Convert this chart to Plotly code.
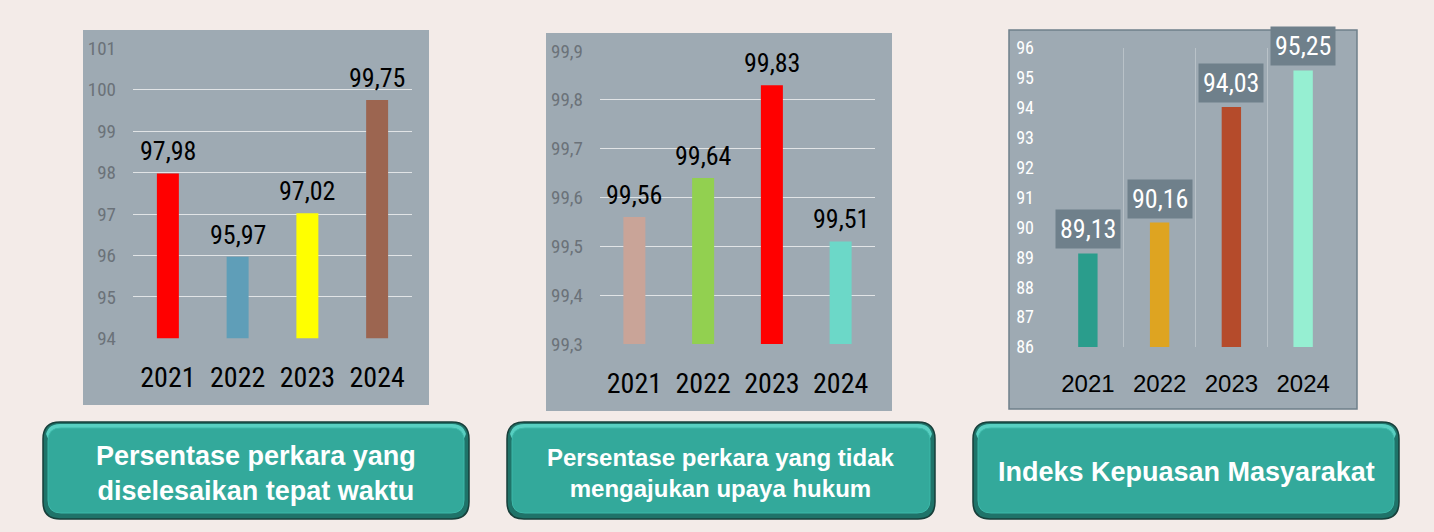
import plotly.graph_objects as go

W, H = 1434, 532

years = ["2021", "2022", "2023", "2024"]

p1_values = [97.98, 95.97, 97.02, 99.75]
p1_colors = ["#ff0000", "#5f9eb8", "#ffff00", "#9c6550"]
p1_ticks = [94, 95, 96, 97, 98, 99, 100, 101]

p2_values = [99.56, 99.64, 99.83, 99.51]
p2_colors = ["#c9a498", "#92d050", "#ff0000", "#6cd8c8"]
p2_ticks = [99.3, 99.4, 99.5, 99.6, 99.7, 99.8, 99.9]

p3_values = [89.13, 90.16, 94.03, 95.25]
p3_colors = ["#2a9d8c", "#dea421", "#b54b2b", "#96efd2"]
p3_ticks = [86, 87, 88, 89, 90, 91, 92, 93, 94, 95, 96]

titles = [
    "Persentase perkara yang<br>diselesaikan tepat waktu",
    "Persentase perkara yang tidak<br>mengajukan upaya hukum",
    "Indeks Kepuasan Masyarakat",
]

NARROW = "Roboto Condensed, Liberation Sans Narrow, Arial Narrow, DejaVu Sans Condensed, sans-serif"
SANS = "Liberation Sans, Arial, sans-serif"
PANEL_BG = "#9eaab3"


def px(x):
    return x / W


def py(y):
    return 1 - y / H


def fmt(v):
    return f"{v:.2f}".replace(".", ",")


def rrect(x0, y0, x1, y1, r):
    pts = [
        f"M {px(x0 + r)},{py(y0)}",
        f"L {px(x1 - r)},{py(y0)}",
        f"Q {px(x1)},{py(y0)} {px(x1)},{py(y0 + r)}",
        f"L {px(x1)},{py(y1 - r)}",
        f"Q {px(x1)},{py(y1)} {px(x1 - r)},{py(y1)}",
        f"L {px(x0 + r)},{py(y1)}",
        f"Q {px(x0)},{py(y1)} {px(x0)},{py(y1 - r)}",
        f"L {px(x0)},{py(y0 + r)}",
        f"Q {px(x0)},{py(y0)} {px(x0 + r)},{py(y0)}",
        "Z",
    ]
    return " ".join(pts)


fig = go.Figure()

panels = [
    dict(vals=p1_values, cols=p1_colors, ticks=p1_ticks, rng=[94, 101], fmt="d",
         dom=(133, 412, 48.3, 338.3), bg=(83, 429, 30, 405), width=0.315,
         tickcol="#6b7279", ticksize=19, yearsize=28, yearfont=NARROW, hgrid=True, boxed=False,
         standoff_y=16, standoff_x=20),
    dict(vals=p2_values, cols=p2_colors, ticks=p2_ticks, rng=[99.3, 99.9], fmt=".1f",
         dom=(600, 875, 51, 344), bg=(546, 892, 33, 411), width=0.32,
         tickcol="#6b7279", ticksize=19, yearsize=28, yearfont=NARROW, hgrid=True, boxed=False,
         standoff_y=16, standoff_x=20),
    dict(vals=p3_values, cols=p3_colors, ticks=p3_ticks, rng=[86, 96], fmt="d",
         dom=(1052, 1339, 48, 347), bg=(1009, 1357, 30, 409), width=0.27,
         tickcol="#ffffff", ticksize=18, yearsize=24, yearfont=SANS, hgrid=False, boxed=True,
         standoff_y=17, standoff_x=20),
]

shapes = []
annotations = []

for i, p in enumerate(panels, start=1):
    xa = "x" if i == 1 else f"x{i}"
    ya = "y" if i == 1 else f"y{i}"
    fig.add_trace(go.Bar(
        x=years, y=p["vals"], marker=dict(color=p["cols"], line=dict(width=0)),
        width=p["width"], xaxis=xa, yaxis=ya, showlegend=False, hoverinfo="skip",
    ))
    x0, x1, y0, y1 = p["dom"]
    xkey = "xaxis" if i == 1 else f"xaxis{i}"
    ykey = "yaxis" if i == 1 else f"yaxis{i}"
    xaxis = dict(
        domain=[px(x0), px(x1)], anchor=ya, type="category", automargin=False,
        range=[-0.5, 3.5], showline=False, zeroline=False, ticks="",
        tickfont=dict(family=p["yearfont"], size=p["yearsize"], color="#000000"),
        ticklabelstandoff=p["standoff_x"], fixedrange=True,
    )
    if p["boxed"]:
        xaxis.update(showgrid=True, tickson="boundaries", gridcolor="#b9c2c8", gridwidth=1)
    else:
        xaxis.update(showgrid=False)
    yaxis = dict(
        domain=[py(y1), py(y0)], anchor=xa, range=p["rng"], tickvals=p["ticks"],
        tickformat=p["fmt"], showline=False, zeroline=False, ticks="", automargin=False,
        showgrid=p["hgrid"], gridcolor="#e1e4e6", gridwidth=1,
        tickfont=dict(family=NARROW, size=p["ticksize"], color=p["tickcol"]),
        ticklabelstandoff=p["standoff_y"], fixedrange=True,
    )
    fig.update_layout(**{xkey: xaxis, ykey: yaxis})

    bx0, bx1, by0, by1 = p["bg"]
    shapes.append(dict(
        type="rect", xref="paper", yref="paper", layer="below",
        x0=px(bx0), x1=px(bx1), y0=py(by1), y1=py(by0),
        fillcolor=PANEL_BG,
        line=dict(color="#6f808b" if p["boxed"] else PANEL_BG, width=1.5 if p["boxed"] else 0),
    ))

    # category index positions on the category axis (annotations use serial numbers)
    for idx, v in enumerate(p["vals"]):
        if p["boxed"]:
            annotations.append(dict(
                x=idx, y=v, xref=xa, yref=ya, text=fmt(v), showarrow=False,
                yanchor="bottom", yshift=4, bgcolor="#6f808b", borderpad=4,
                height=30,
                font=dict(family=NARROW, size=26, color="#ffffff"),
            ))
        else:
            annotations.append(dict(
                x=idx, y=v, xref=xa, yref=ya, text=fmt(v), showarrow=False,
                yanchor="bottom", yshift=5,
                font=dict(family=NARROW, size=26, color="#000000"),
            ))

# title buttons
buttons = [(43, 469), (507, 935), (973, 1399)]
title_sizes = [27, 24, 27]
title_centers = [473.5, 473, 472]
for (bx0, bx1), t, fs, cy in zip(buttons, titles, title_sizes, title_centers):
    by0, by1 = 422, 519
    shapes.append(dict(type="path", xref="paper", yref="paper", layer="above",
                       path=rrect(bx0, by0, bx1, by1, 17),
                       fillcolor="#1f7369", line=dict(color="#173f3a", width=1.5)))
    shapes.append(dict(type="path", xref="paper", yref="paper", layer="above",
                       path=rrect(bx0 + 3, by0 + 2, bx1 - 3, by0 + 22, 14),
                       fillcolor="#58cfc1", line=dict(width=0)))
    shapes.append(dict(type="path", xref="paper", yref="paper", layer="above",
                       path=rrect(bx0 + 5, by0 + 6, bx1 - 5, by1 - 6, 13),
                       fillcolor="#33a99b", line=dict(color="#3cb8a9", width=1)))
    annotations.append(dict(
        x=px((bx0 + bx1) / 2), y=py(cy), xref="paper", yref="paper",
        text=f"<b>{t}</b>", showarrow=False, xanchor="center", yanchor="middle",
        font=dict(family=SANS, size=fs, color="#ffffff"), align="center",
    ))

fig.update_layout(
    template="none",
    width=W, height=H, autosize=False,
    margin=dict(l=0, r=0, t=0, b=0, pad=0),
    paper_bgcolor="#f3ebe8", plot_bgcolor="rgba(0,0,0,0)",
    separators=",.", bargap=0.5,
    shapes=shapes, annotations=annotations,
)

fig.write_html(
    "out.html",
    config={"displayModeBar": False},
    post_script="document.body.style.margin='0px';",
)
